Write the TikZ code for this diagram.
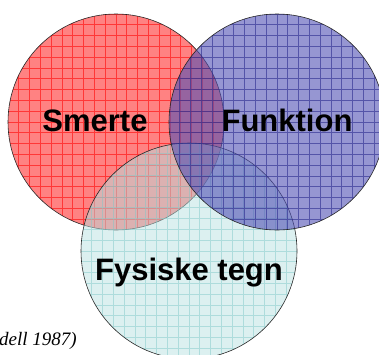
\documentclass[tikz,border=0pt]{standalone}
\usepackage{fontspec}
\newfontfamily\labelfont{Liberation Sans}
\newfontfamily\citefont{Liberation Serif}
\definecolor{smerteFill}{RGB}{255,130,130}
\definecolor{smerteLine}{RGB}{255,55,55}
\definecolor{tegnFill}{RGB}{185,225,225}
\definecolor{tegnLine}{RGB}{130,200,200}
\definecolor{funkFill}{RGB}{80,80,180}
\definecolor{funkLine}{RGB}{40,40,140}

\begin{document}
\begin{tikzpicture}[x=1pt, y=-1pt,
    set/.style = {draw=black!85, line width=0.6pt, circle, minimum size=216pt, inner sep=0pt},
    mesh/.style = {path picture={\draw[#1, line width=0.8pt, step=10.8pt] (path picture bounding box.south west) grid (path picture bounding box.north east);}},
    lbl/.style = {anchor=base, font=\labelfont\bfseries\fontsize{31}{31}\selectfont}]
    \useasboundingbox (0,0) rectangle (379,354);
    \node[set, fill=smerteFill, mesh=smerteLine] (smerte) at (116,122) {};
    \node[set, fill=tegnFill, fill opacity=0.5, mesh={tegnLine, draw opacity=0.5}] (tegn) at (189,251) {};
    \node[set, fill=funkFill, fill opacity=0.6, mesh={funkLine, draw opacity=0.6}] (funktion) at (277,122) {};
    \node[lbl] (smerteTxt) at (95,131) {Smerte};
    \node[lbl] (funkTxt) at (287,131) {Funktion};
    \node[lbl] (tegnTxt) at (189,280) {Fysiske tegn};
    \node[anchor=base west, inner sep=0pt, font=\citefont\itshape\fontsize{19}{19}\selectfont] (kilde) at (-1,345) {dell 1987)};
\end{tikzpicture}
\end{document}
